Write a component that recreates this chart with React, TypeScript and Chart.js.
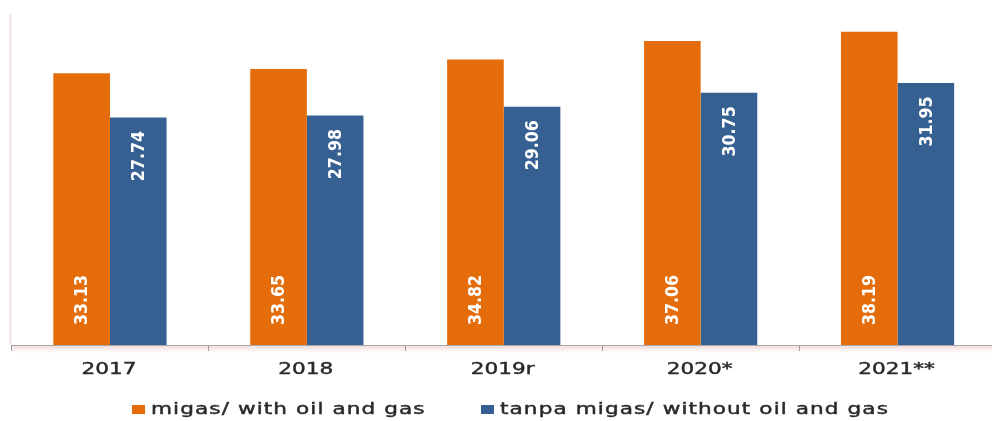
import React, { useEffect, useRef } from "react";
import { Chart, registerables } from "chart.js";

Chart.register(...registerables);

const categories = ["2017", "2018", "2019r", "2020*", "2021**"];
const withOilGas = [33.13, 33.65, 34.82, 37.06, 38.19];
const withoutOilGas = [27.74, 27.98, 29.06, 30.75, 31.95];
const seriesNames = ["migas/ with oil and gas", "tanpa migas/ without oil and gas"];
const seriesColors = ["#E46C0A", "#376092"];

const FONT = "'DejaVu Sans', Verdana, sans-serif";
const TEXT_STRETCH = 1.35;

export default function App() {
  const ref = useRef<HTMLCanvasElement>(null);

  useEffect(() => {
    document.body.style.margin = "0";
    document.body.style.overflow = "hidden";
    const canvas = ref.current;
    if (!canvas) return;

    const decoPlugin = {
      id: "deco",
      beforeDraw(chart: any) {
        const { ctx, chartArea } = chart;
        ctx.save();
        ctx.strokeStyle = "#f3e2e2";
        ctx.lineWidth = 2;
        ctx.beginPath();
        ctx.moveTo(chartArea.left - 1, chartArea.top - 3);
        ctx.lineTo(chartArea.left - 1, chartArea.bottom);
        ctx.stroke();
        const g = ctx.createLinearGradient(0, chartArea.bottom, 0, chartArea.bottom + 8);
        g.addColorStop(0, "rgba(225,170,170,0.45)");
        g.addColorStop(1, "rgba(225,170,170,0)");
        ctx.fillStyle = g;
        ctx.fillRect(chartArea.left, chartArea.bottom, chartArea.right - chartArea.left, 8);
        ctx.restore();
      },
      afterDraw(chart: any) {
        const { ctx, chartArea } = chart;
        const xScale = chart.scales.x;
        ctx.save();
        ctx.font = `16px ${FONT}`;
        ctx.textBaseline = "middle";
        ctx.fillStyle = "#2a2a2a";
        ctx.strokeStyle = "#2a2a2a";
        ctx.lineWidth = 0.45;
        // category labels
        ctx.textAlign = "center";
        categories.forEach((c, i) => {
          ctx.save();
          ctx.translate(xScale.getPixelForValue(i) - 1, chartArea.bottom + 25);
          ctx.scale(TEXT_STRETCH, 1);
          ctx.fillText(c, 0, 0);
          ctx.strokeText(c, 0, 0);
          ctx.restore();
        });
        // legend
        ctx.textAlign = "left";
        ctx.letterSpacing = "0.8px";
        const boxX = [132, 481];
        seriesNames.forEach((name, i) => {
          ctx.fillStyle = seriesColors[i];
          ctx.fillRect(boxX[i], 405, 13, 9);
          ctx.fillStyle = "#2a2a2a";
          ctx.save();
          ctx.translate(boxX[i] + 19, 410);
          ctx.scale(TEXT_STRETCH, 1);
          ctx.fillText(name, 0, 0);
          ctx.strokeText(name, 0, 0);
          ctx.restore();
        });
        ctx.restore();
      },
    };

    const labelPlugin = {
      id: "barLabels",
      afterDatasetsDraw(chart: any) {
        const ctx = chart.ctx;
        ctx.save();
        ctx.fillStyle = "#ffffff";
        ctx.font = `bold 18px ${FONT}`;
        chart.data.datasets.forEach((ds: any, di: number) => {
          const meta = chart.getDatasetMeta(di);
          meta.data.forEach((bar: any, i: number) => {
            const text = Number(ds.data[i]).toFixed(2);
            ctx.save();
            if (di === 0) {
              ctx.translate(bar.x, bar.base - 20);
              ctx.rotate(-Math.PI / 2);
              ctx.scale(0.88, 1);
              ctx.textAlign = "left";
            } else {
              ctx.translate(bar.x, bar.y + 13.5);
              ctx.rotate(-Math.PI / 2);
              ctx.scale(0.88, 1);
              ctx.textAlign = "right";
            }
            ctx.textBaseline = "middle";
            ctx.fillText(text, 0, 1);
            ctx.restore();
          });
        });
        ctx.restore();
      },
    };

    const chart = new Chart(canvas, {
      type: "bar",
      data: {
        labels: categories,
        datasets: [
          {
            label: seriesNames[0],
            data: withOilGas,
            backgroundColor: seriesColors[0],
            borderWidth: 0,
            barPercentage: 1,
            categoryPercentage: 0.575,
          },
          {
            label: seriesNames[1],
            data: withoutOilGas,
            backgroundColor: seriesColors[1],
            borderWidth: 0,
            barPercentage: 1,
            categoryPercentage: 0.575,
          },
        ],
      },
      options: {
        responsive: false,
        animation: false,
        layout: { padding: { left: 11.5, right: 4, top: 17, bottom: 70 } },
        plugins: {
          legend: { display: false },
          tooltip: { enabled: false },
        },
        scales: {
          x: {
            grid: {
              offset: true,
              drawOnChartArea: false,
              drawTicks: true,
              tickLength: 6,
              color: "#9a9a9a",
            },
            border: { color: "#a8a8a8", width: 1 },
            ticks: { display: false },
          },
          y: {
            display: false,
            min: 0,
            max: 40,
          },
        },
      },
      plugins: [decoPlugin, labelPlugin],
    });

    return () => chart.destroy();
  }, []);

  return (
    <div style={{ width: 992, height: 421, overflow: "hidden" }}>
      <canvas ref={ref} width={1000} height={421} style={{ display: "block" }} />
    </div>
  );
}
